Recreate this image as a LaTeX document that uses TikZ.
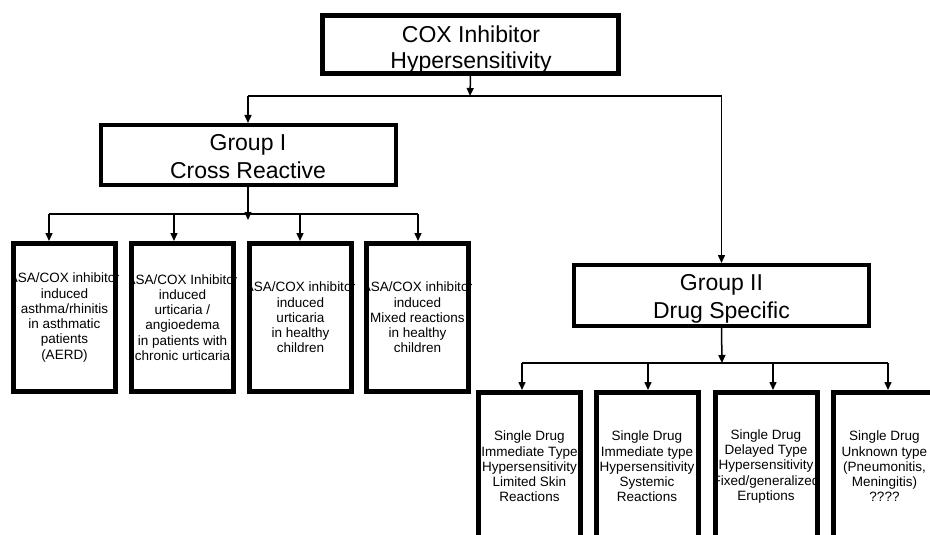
\documentclass[tikz,border=0pt]{standalone}
\usepackage{fontspec}
\setmainfont{Liberation Sans}
\usetikzlibrary{arrows.meta}
\newcommand\leafclip[2]{%
  \begin{scope}
    \clip (#1.north west) rectangle (#1.south east);
    \node[leaftext] (#1t) at (#1) {#2};
  \end{scope}}
\begin{document}
\begin{tikzpicture}[x=1pt,y=-1pt,
  topbox/.style={draw, line width=5pt, inner sep=0pt, minimum width=296pt, minimum height=58pt},
  grpbox/.style={draw, line width=4pt, inner sep=0pt, minimum width=295pt, minimum height=60pt},
  bigtext/.style={align=center, inner sep=0pt, font=\fontsize{23}{28}\selectfont},
  leafbox/.style={draw, line width=5pt, inner sep=0pt, minimum width=102pt, minimum height=148pt},
  leaftext/.style={align=center, inner sep=0pt, font=\fontsize{13.5}{15.3}\selectfont},
  arr/.style={line width=1.5pt, -{Triangle[width=7pt,length=8pt]}},
  ln/.style={line width=1.5pt}]
\useasboundingbox (0,0) rectangle (930,535);
\clip (0,0) rectangle (930,535);

% main boxes
\node[topbox] (top) at (470.5,44.3) {};
\node[bigtext, font=\fontsize{23}{26}\selectfont] (topt) at (471,50) {COX Inhibitor\\Hypersensitivity};
\node[grpbox] (g1) at (248,155) {};
\node[bigtext] (g1t) at (248,157) {Group I\\Cross Reactive};
\node[grpbox, minimum height=61pt] (g2) at (721.5,295.5) {};
\node[bigtext] (g2t) at (721.5,299) {Group II\\Drug Specific};

% group I leaves
\node[leafbox] (c1) at (64.5,317.5) {};
\node[leafbox] (c2) at (182.5,317.5) {};
\node[leafbox] (c3) at (300.5,317.5) {};
\node[leafbox] (c4) at (417.5,317.5) {};
\leafclip{c1}{ASA/COX inhibitor\\induced\\asthma/rhinitis\\in asthmatic\\patients\\(AERD)}
\leafclip{c2}{ASA/COX Inhibitor\\induced\\urticaria /\\angioedema\\in patients with\\chronic urticaria}
\leafclip{c3}{ASA/COX inhibitor\\induced\\urticaria\\in healthy\\children}
\leafclip{c4}{ASA/COX inhibitor\\induced\\Mixed reactions\\in healthy\\children}

% group II leaves
\node[leafbox] (d1) at (529.5,466.5) {};
\node[leafbox] (d2) at (647,466.5) {};
\node[leafbox] (d3) at (766,466.5) {};
\node[leafbox] (d4) at (884.5,466.5) {};
\leafclip{d1}{Single Drug\\Immediate Type\\Hypersensitivity\\Limited Skin\\Reactions}
\leafclip{d2}{Single Drug\\Immediate type\\Hypersensitivity\\Systemic\\Reactions}
\leafclip{d3}{Single Drug\\Delayed Type\\Hypersensitivity\\Fixed/generalized\\Eruptions}
\leafclip{d4}{Single Drug\\Unknown type\\(Pneumonitis,\\Meningitis)\\????}

% top connectors
\coordinate (j0) at (470,96);
\draw[arr] (top.south) -- (j0);
\draw[ln] (g1.north |- j0) -- (g2.north |- j0);
\draw[arr] (g1.north |- j0) -- (g1.north);
\draw[arr] (g2.north |- j0) -- (g2.north);

% group I bus
\coordinate (j1) at (248,220);
\coordinate (b1) at (49,214);
\coordinate (b2) at (174,214);
\coordinate (b3) at (300,214);
\coordinate (b4) at (418,214);
\draw[ln] (b1) -- (b4);
\draw[arr] (g1.south) -- (j1);
\draw[arr] (b1) -- (b1 |- c1.north);
\draw[arr] (b2) -- (b2 |- c2.north);
\draw[arr] (b3) -- (b3 |- c3.north);
\draw[arr] (b4) -- (b4 |- c4.north);

% group II bus
\coordinate (j2) at (722,363);
\coordinate (e1) at (522,363);
\coordinate (e2) at (648,363);
\coordinate (e3) at (773,363);
\coordinate (e4) at (888,363);
\draw[ln] (e1) -- (e4);
\draw[arr] (g2.south) -- (j2);
\draw[arr] (e1) -- (e1 |- d1.north);
\draw[arr] (e2) -- (e2 |- d2.north);
\draw[arr] (e3) -- (e3 |- d3.north);
\draw[arr] (e4) -- (e4 |- d4.north);
\end{tikzpicture}
\end{document}
